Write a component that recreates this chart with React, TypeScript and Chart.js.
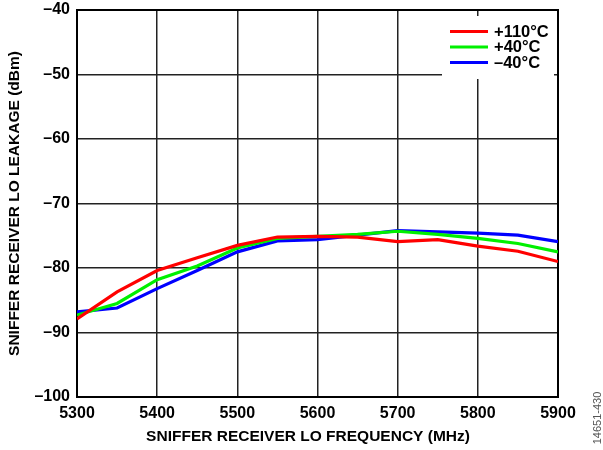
import React, { useEffect, useRef } from "react";
import { Chart, registerables } from "chart.js";

Chart.register(...registerables);

const frequencies = [5300, 5350, 5400, 5450, 5500, 5550, 5600, 5650, 5700, 5750, 5800, 5850, 5900];
const seriesLabels = ["+110°C", "+40°C", "\u201340°C"];
const seriesColors = ["#ff0000", "#00f000", "#0000ff"];
const hot110 = [-87.9, -83.7, -80.4, -78.4, -76.5, -75.2, -75.1, -75.2, -75.9, -75.6, -76.6, -77.4, -79.0];
const room40 = [-87.3, -85.5, -81.8, -79.7, -76.9, -75.4, -75.1, -74.8, -74.3, -74.8, -75.4, -76.2, -77.5];
const cold40 = [-86.8, -86.2, -83.2, -80.4, -77.5, -75.8, -75.6, -74.9, -74.2, -74.4, -74.6, -74.9, -75.9];
const yTicks = [-100, -90, -80, -70, -60, -50, -40];
const xTicks = [5300, 5400, 5500, 5600, 5700, 5800, 5900];
const xTitle = "SNIFFER RECEIVER LO FREQUENCY (MHz)";
const yTitle = "SNIFFER RECEIVER LO LEAKAGE (dBm)";
const figureId = "14651-430";

const FONT = '"Liberation Sans", Arial, Helvetica, sans-serif';

const decorPlugin = {
  id: "decor",
  beforeDatasetsDraw(chart: any) {
    const { ctx, chartArea } = chart;
    ctx.save();
    ctx.strokeStyle = "#000";
    ctx.lineWidth = 2;
    ctx.strokeRect(chartArea.left, chartArea.top, chartArea.right - chartArea.left, chartArea.bottom - chartArea.top);
    ctx.restore();
  },
  afterDatasetsDraw(chart: any) {
    const { ctx, chartArea } = chart;
    ctx.save();
    const bx = chartArea.right - 116;
    const by = chartArea.top + 6;
    ctx.fillStyle = "#fff";
    ctx.fillRect(bx, by, 112, 63);
    chart.data.datasets.forEach((ds: any, i: number) => {
      const y = chartArea.top + 21.5 + i * 15.5;
      ctx.strokeStyle = ds.borderColor;
      ctx.lineWidth = 3;
      ctx.beginPath();
      ctx.moveTo(bx + 8, y);
      ctx.lineTo(bx + 46, y);
      ctx.stroke();
      ctx.fillStyle = "#000";
      ctx.font = `bold 16.5px ${FONT}`;
      ctx.textAlign = "left";
      ctx.textBaseline = "middle";
      ctx.fillText(ds.label, bx + 52, y + 0.5);
    });
    ctx.restore();
  },
  afterDraw(chart: any) {
    const { ctx } = chart;
    ctx.save();
    ctx.fillStyle = "#000";
    ctx.font = `bold 15.5px ${FONT}`;
    ctx.textAlign = "center";
    ctx.textBaseline = "middle";
    ctx.fillText(xTitle, 308, 437);
    ctx.save();
    ctx.translate(15, 203.5);
    ctx.rotate(-Math.PI / 2);
    ctx.fillText(yTitle, 0, 0);
    ctx.restore();
    ctx.save();
    ctx.fillStyle = "#555";
    ctx.font = `11px ${FONT}`;
    ctx.translate(598, 418);
    ctx.rotate(-Math.PI / 2);
    ctx.fillText(figureId, 0, 0);
    ctx.restore();
    ctx.restore();
  },
};

export default function App() {
  const canvasRef = useRef<HTMLCanvasElement | null>(null);

  useEffect(() => {
    const canvas = canvasRef.current;
    if (!canvas) return;
    const mk = (label: string, values: number[], color: string) => ({
      label,
      data: frequencies.map((f, i) => ({ x: f, y: values[i] })),
      borderColor: color,
      backgroundColor: color,
      borderWidth: 3.2,
      pointRadius: 0,
      tension: 0,
      fill: false,
    });
    const chart = new Chart(canvas, {
      type: "line",
      data: {
        datasets: [
          mk(seriesLabels[0], hot110, seriesColors[0]),
          mk(seriesLabels[1], room40, seriesColors[1]),
          mk(seriesLabels[2], cold40, seriesColors[2]),
        ],
      },
      options: {
        responsive: false,
        maintainAspectRatio: false,
        animation: false,
        devicePixelRatio: 1,
        layout: { padding: { top: 10, right: 45, left: 0, bottom: 0 } },
        plugins: { legend: { display: false }, tooltip: { enabled: false } },
        scales: {
          x: {
            type: "linear",
            min: 5300,
            max: 5900,
            afterFit: (s: any) => {
              s.height = 53;
              s.paddingLeft = 0;
              s.paddingRight = 0;
            },
            afterBuildTicks: (s: any) => {
              s.ticks = xTicks.map((v) => ({ value: v }));
            },
            grid: { color: "#222", lineWidth: 1.5, drawTicks: false },
            border: { display: false },
            ticks: {
              color: "#000",
              padding: 7,
              maxRotation: 0,
              autoSkip: false,
              font: { family: FONT, size: 16, weight: "bold" },
              callback: (v: any) => String(v),
            },
          },
          y: {
            type: "linear",
            min: -100,
            max: -40,
            afterFit: (s: any) => {
              s.width = 77;
              s.paddingTop = 0;
              s.paddingBottom = 0;
            },
            afterBuildTicks: (s: any) => {
              s.ticks = yTicks.map((v) => ({ value: v }));
            },
            grid: { color: "#222", lineWidth: 1.5, drawTicks: false },
            border: { display: false },
            ticks: {
              color: "#000",
              padding: 7,
              autoSkip: false,
              font: { family: FONT, size: 16, weight: "bold" },
              callback: (v: any) => (v < 0 ? "\u2013" + Math.abs(v) : String(v)),
            },
          },
        },
      },
      plugins: [decorPlugin],
    } as any);
    return () => chart.destroy();
  }, []);

  return (
    <div style={{ position: "fixed", left: 0, top: 0, width: 603, height: 450, background: "#fff" }}>
      <canvas ref={canvasRef} width={603} height={450} style={{ width: 603, height: 450, display: "block" }} />
    </div>
  );
}
